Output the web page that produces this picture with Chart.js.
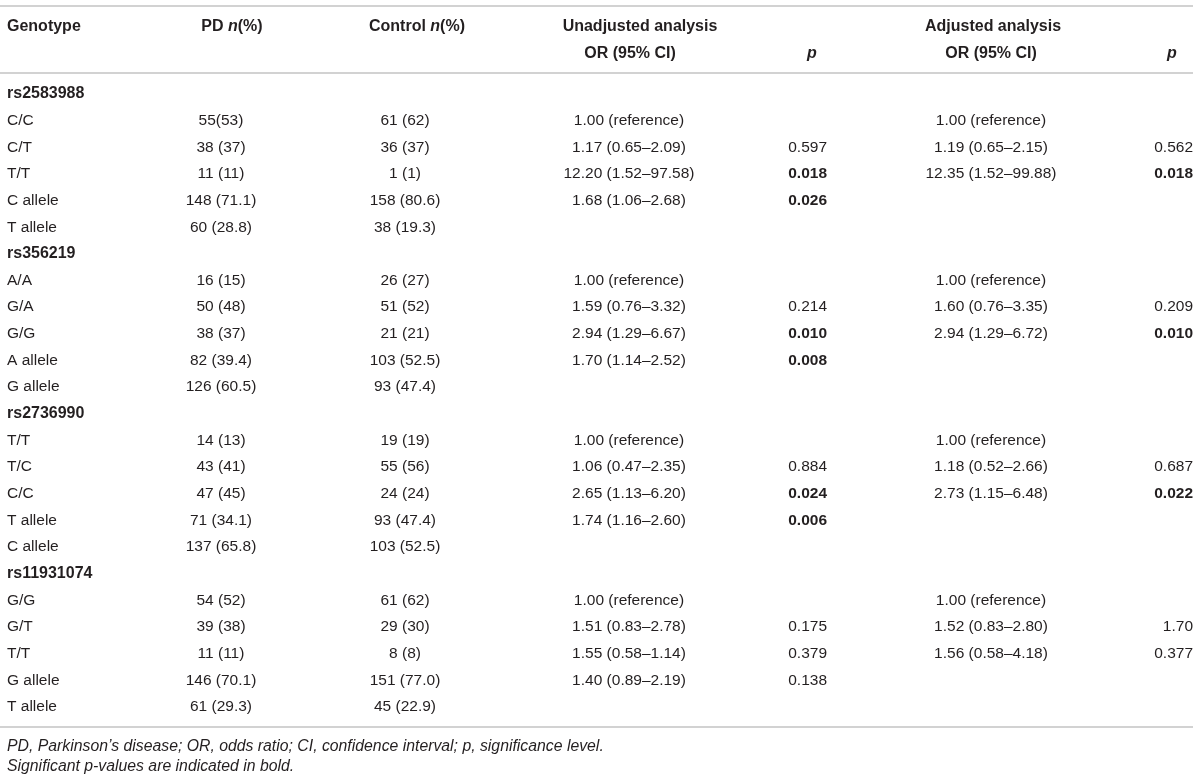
<!DOCTYPE html>
<html>
<head>
<meta charset="utf-8">
<title>Genotype association table</title>
<script src="https://cdn.jsdelivr.net/npm/chart.js@4.4.1/dist/chart.umd.min.js"></script>
<style>
  html, body { margin: 0; padding: 0; background: #fff; }
  #tableChart { display: block; }
</style>
</head>
<body>
<canvas id="tableChart" width="1200" height="779"></canvas>
<script>
// ---- table content ----
const snps = ['rs2583988', 'rs356219', 'rs2736990', 'rs11931074'];

const genotypes = [
  ['C/C', 'C/T', 'T/T', 'C allele', 'T allele'],
  ['A/A', 'G/A', 'G/G', 'A allele', 'G allele'],
  ['T/T', 'T/C', 'C/C', 'T allele', 'C allele'],
  ['G/G', 'G/T', 'T/T', 'G allele', 'T allele']
];

const pdCounts = [
  ['55(53)', '38 (37)', '11 (11)', '148 (71.1)', '60 (28.8)'],
  ['16 (15)', '50 (48)', '38 (37)', '82 (39.4)', '126 (60.5)'],
  ['14 (13)', '43 (41)', '47 (45)', '71 (34.1)', '137 (65.8)'],
  ['54 (52)', '39 (38)', '11 (11)', '146 (70.1)', '61 (29.3)']
];

const controlCounts = [
  ['61 (62)', '36 (37)', '1 (1)', '158 (80.6)', '38 (19.3)'],
  ['26 (27)', '51 (52)', '21 (21)', '103 (52.5)', '93 (47.4)'],
  ['19 (19)', '55 (56)', '24 (24)', '93 (47.4)', '103 (52.5)'],
  ['61 (62)', '29 (30)', '8 (8)', '151 (77.0)', '45 (22.9)']
];

const unadjustedOR = [
  ['1.00 (reference)', '1.17 (0.65–2.09)', '12.20 (1.52–97.58)', '1.68 (1.06–2.68)', ''],
  ['1.00 (reference)', '1.59 (0.76–3.32)', '2.94 (1.29–6.67)', '1.70 (1.14–2.52)', ''],
  ['1.00 (reference)', '1.06 (0.47–2.35)', '2.65 (1.13–6.20)', '1.74 (1.16–2.60)', ''],
  ['1.00 (reference)', '1.51 (0.83–2.78)', '1.55 (0.58–1.14)', '1.40 (0.89–2.19)', '']
];

const unadjustedP = [
  ['', '0.597', '0.018', '0.026', ''],
  ['', '0.214', '0.010', '0.008', ''],
  ['', '0.884', '0.024', '0.006', ''],
  ['', '0.175', '0.379', '0.138', '']
];

const adjustedOR = [
  ['1.00 (reference)', '1.19 (0.65–2.15)', '12.35 (1.52–99.88)', '', ''],
  ['1.00 (reference)', '1.60 (0.76–3.35)', '2.94 (1.29–6.72)', '', ''],
  ['1.00 (reference)', '1.18 (0.52–2.66)', '2.73 (1.15–6.48)', '', ''],
  ['1.00 (reference)', '1.52 (0.83–2.80)', '1.56 (0.58–4.18)', '', '']
];

const adjustedP = [
  ['', '0.562', '0.018', '', ''],
  ['', '0.209', '0.010', '', ''],
  ['', '0.687', '0.022', '', ''],
  ['', '1.70', '0.377', '', '']
];

// *x* marks italic runs
const headerTop = ['Genotype', 'PD *n*(%)', 'Control *n*(%)', 'Unadjusted analysis', 'Adjusted analysis'];
const headerBottom = ['OR (95% CI)', '*p*', 'OR (95% CI)', '*p*'];
const footnotes = [
  'PD, Parkinson\u2019s disease; OR, odds ratio; CI, confidence interval; p, significance level.',
  'Significant p-values are indicated in bold.'
];

// ---- layout ----
const W = 1200, H = 779;
const ROW_TOP = 94, ROW_H = 26.65;
const FONT = '"Liberation Sans", Arial, Helvetica, sans-serif';
const TEXT_COLOR = '#231f20';
const RULE_COLOR = '#d2d2d2';
const RULE_END = 1193;
const rulePx = [6, 73, 727];
const headerTopPos = [[7, 'left'], [232, 'center'], [417, 'center'], [640, 'center'], [993, 'center']];
const headerBottomPos = [[630, 'center'], [812, 'center'], [991, 'center'], [1172, 'center']];
const headerTopPx = 27, headerBottomPx = 54;
const footPx = [747, 767];
const columns = [
  { data: genotypes, x: 7, align: 'left' },
  { data: pdCounts, x: 221, align: 'center' },
  { data: controlCounts, x: 405, align: 'center' },
  { data: unadjustedOR, x: 629, align: 'center' },
  { data: unadjustedP, x: 827, align: 'right', pValue: true },
  { data: adjustedOR, x: 991, align: 'center' },
  { data: adjustedP, x: 1193, align: 'right', pValue: true }
];

function toRow(px) {
  return (px - ROW_TOP) / ROW_H;
}

function parseRuns(str, weight) {
  return str.split('*').map((t, i) => ({
    t: t,
    font: (i % 2 ? 'italic ' : '') + weight + ' ' + FONT
  })).filter(r => r.t.length);
}

function drawRuns(ctx, runs, x, y, align) {
  let total = 0;
  runs.forEach(r => { ctx.font = r.font; r.w = ctx.measureText(r.t).width; total += r.w; });
  let cx = align === 'center' ? x - total / 2 : align === 'right' ? x - total : x;
  ctx.textAlign = 'left';
  runs.forEach(r => { ctx.font = r.font; ctx.fillText(r.t, cx, y); cx += r.w; });
}

const tableText = {
  id: 'tableText',
  afterDatasetsDraw(chart) {
    const { ctx, scales: { x, y } } = chart;
    ctx.save();
    ctx.textBaseline = 'middle';
    ctx.fillStyle = TEXT_COLOR;

    headerTop.forEach((h, i) => {
      drawRuns(ctx, parseRuns(h, 'bold 16px'), x.getPixelForValue(headerTopPos[i][0]),
        y.getPixelForValue(toRow(headerTopPx)), headerTopPos[i][1]);
    });
    headerBottom.forEach((h, i) => {
      drawRuns(ctx, parseRuns(h, 'bold 16px'), x.getPixelForValue(headerBottomPos[i][0]),
        y.getPixelForValue(toRow(headerBottomPx)), headerBottomPos[i][1]);
    });

    let row = 0;
    snps.forEach((snp, g) => {
      drawRuns(ctx, parseRuns(snp, 'bold 16px'), x.getPixelForValue(7), y.getPixelForValue(row), 'left');
      row++;
      genotypes[g].forEach((_, r) => {
        columns.forEach(col => {
          const val = col.data[g][r];
          if (!val) return;
          const bold = col.pValue && parseFloat(val) < 0.05;
          drawRuns(ctx, parseRuns(val, (bold ? 'bold' : 'normal') + ' 15.5px'),
            x.getPixelForValue(col.x), y.getPixelForValue(row), col.align);
        });
        row++;
      });
    });

    footnotes.forEach((f, i) => {
      drawRuns(ctx, [{ t: f, font: 'italic normal 15.8px ' + FONT }], x.getPixelForValue(7),
        y.getPixelForValue(toRow(footPx[i])), 'left');
    });
    ctx.restore();
  }
};

const ruleSets = rulePx.map(px => ({
  data: [{ x: 0, y: toRow(px) }, { x: RULE_END, y: toRow(px) }],
  borderColor: RULE_COLOR,
  borderWidth: 2,
  pointRadius: 0,
  fill: false
}));

new Chart(document.getElementById('tableChart').getContext('2d'), {
  type: 'line',
  data: { datasets: ruleSets },
  options: {
    responsive: false,
    animation: false,
    layout: { padding: 0 },
    plugins: { legend: { display: false }, tooltip: { enabled: false } },
    scales: {
      x: { type: 'linear', display: false, min: 0, max: W },
      y: { type: 'linear', display: false, reverse: true, min: toRow(0), max: toRow(H) }
    }
  },
  plugins: [tableText]
});
</script>
</body>
</html>
